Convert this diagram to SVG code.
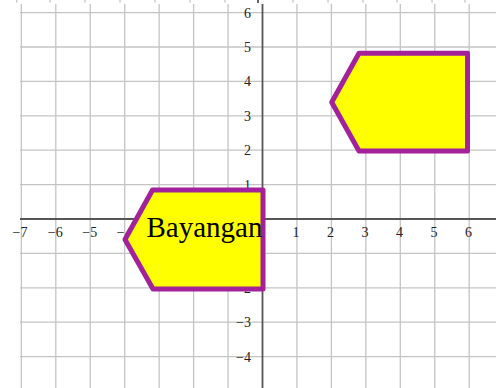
<svg xmlns="http://www.w3.org/2000/svg" width="496" height="388" viewBox="0 0 496 388">
<style>
.grid line{stroke:#c4c4c4;stroke-width:1.3}
.axis line{stroke:#555;stroke-width:1.8}
.lbl{font-family:"Liberation Serif",serif;font-size:14px;fill:#222}
.xl{text-anchor:middle}
.yl{text-anchor:end}
.shape{fill:#ffff00;stroke:#a3219b;stroke-width:5;stroke-linejoin:round}
.big{font-family:"Liberation Serif",serif;font-size:29px;fill:#000}
</style>
<rect width="496" height="388" fill="#fff"/>
<g class="grid">
<line x1="21.35" y1="4" x2="21.35" y2="388"/>
<line x1="55.8" y1="4" x2="55.8" y2="388"/>
<line x1="90.25" y1="4" x2="90.25" y2="388"/>
<line x1="124.7" y1="4" x2="124.7" y2="388"/>
<line x1="159.15" y1="4" x2="159.15" y2="388"/>
<line x1="193.6" y1="4" x2="193.6" y2="388"/>
<line x1="228.05" y1="4" x2="228.05" y2="388"/>
<line x1="296.95" y1="4" x2="296.95" y2="388"/>
<line x1="331.4" y1="4" x2="331.4" y2="388"/>
<line x1="365.85" y1="4" x2="365.85" y2="388"/>
<line x1="400.3" y1="4" x2="400.3" y2="388"/>
<line x1="434.75" y1="4" x2="434.75" y2="388"/>
<line x1="469.2" y1="4" x2="469.2" y2="388"/>
<line x1="20" y1="12.6" x2="496" y2="12.6"/>
<line x1="20" y1="47" x2="496" y2="47"/>
<line x1="20" y1="81.4" x2="496" y2="81.4"/>
<line x1="20" y1="115.8" x2="496" y2="115.8"/>
<line x1="20" y1="150.2" x2="496" y2="150.2"/>
<line x1="20" y1="184.6" x2="496" y2="184.6"/>
<line x1="20" y1="253.4" x2="496" y2="253.4"/>
<line x1="20" y1="287.8" x2="496" y2="287.8"/>
<line x1="20" y1="322.2" x2="496" y2="322.2"/>
<line x1="20" y1="356.6" x2="496" y2="356.6"/>
<line x1="16.7" y1="0" x2="16.7" y2="2.5"/>
<line x1="50" y1="0" x2="50" y2="2.5"/>
<line x1="85" y1="0" x2="85" y2="2.5"/>
<line x1="120" y1="0" x2="120" y2="2.5"/>
<line x1="155" y1="0" x2="155" y2="2.5"/>
<line x1="190" y1="0" x2="190" y2="2.5"/>
<line x1="225" y1="0" x2="225" y2="2.5"/>
<line x1="293" y1="0" x2="293" y2="2.5"/>
<line x1="328" y1="0" x2="328" y2="2.5"/>
<line x1="363" y1="0" x2="363" y2="2.5"/>
<line x1="397" y1="0" x2="397" y2="2.5"/>
<line x1="432" y1="0" x2="432" y2="2.5"/>
<line x1="465" y1="0" x2="465" y2="2.5"/>
</g>
<g class="axis">
<line x1="20" y1="219" x2="496" y2="219"/>
<line x1="262.5" y1="4" x2="262.5" y2="388"/>
<line x1="258" y1="0" x2="258" y2="3"/>
</g>
<g class="lbl">
<text class="xl" x="20" y="237">−7</text>
<text class="xl" x="55.3" y="237">−6</text>
<text class="xl" x="89.8" y="237">−5</text>
<text class="xl" x="124.2" y="237">−4</text>
<text class="xl" x="296" y="237">1</text>
<text class="xl" x="330.5" y="237">2</text>
<text class="xl" x="365" y="237">3</text>
<text class="xl" x="399.5" y="237">4</text>
<text class="xl" x="434" y="237">5</text>
<text class="xl" x="468.5" y="237">6</text>
<text class="yl" x="251" y="17.5">6</text>
<text class="yl" x="251" y="51.9">5</text>
<text class="yl" x="251" y="86.3">4</text>
<text class="yl" x="251" y="120.7">3</text>
<text class="yl" x="251" y="155.1">2</text>
<text class="yl" x="251" y="189.5">1</text>
<text class="yl" x="251" y="292.7">−2</text>
<text class="yl" x="251" y="327.1">−3</text>
<text class="yl" x="251" y="361.5">−4</text>
</g>
<g id="shape-original">
<polygon class="shape" points="359,53.3 467.5,53.3 467.5,151 359,151 331.7,102.3"/>
</g>
<g id="shape-bayangan">
<polygon class="shape" points="152.5,190 263,190 263,289 153,289 125,239.5"/>
<text class="big" x="146.5" y="236.5">Bayangan</text>
</g>
</svg>
